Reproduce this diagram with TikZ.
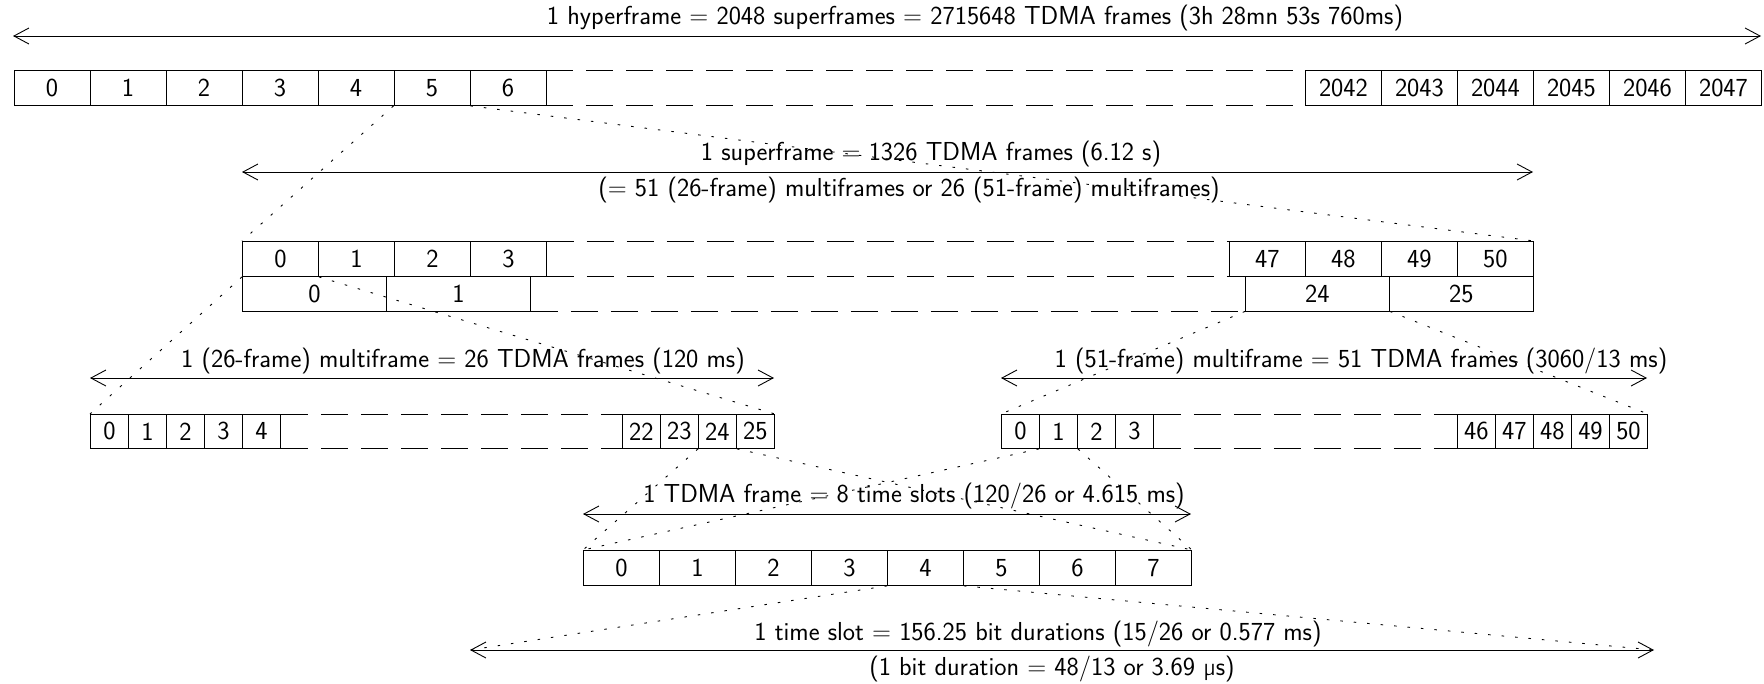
\documentclass[tikz,border=0pt]{standalone}
\usetikzlibrary{arrows.meta}
\begin{document}
\begin{tikzpicture}[x=1pt,y=-1pt,
  every node/.style={font=\fontsize{26}{30}\selectfont\sffamily},
  cell/.style={draw,line width=0.9pt,anchor=north west,inner sep=0pt,minimum height=35pt,minimum width=#1},
  cell/.default=76pt,
  lbl/.style={inner sep=0pt,anchor=center},
  dim/.style={line width=0.9pt,{Straight Barb[length=15pt,width=16pt]}-{Straight Barb[length=15pt,width=16pt]}},
  gap/.style={line width=0.9pt,dash pattern=on 27pt off 13pt},
  zoomline/.style={line width=0.9pt,dash pattern=on 2.5pt off 11pt}]
\useasboundingbox (0,0) rectangle (1764,683);

% ---------- hyperframe ----------
\node[lbl] (t1) at (975,18) {1 hyperframe = 2048 superframes = 2715648 TDMA frames (3h 28mn 53s 760ms)};
\coordinate (a1l) at (13,36); \coordinate (a1r) at (1761,36);
\draw[dim] (a1l) -- (a1r);
\foreach \i in {0,...,6} \node[cell] (h\i) at (13.5+76*\i,70) {\i};
\foreach \n [count=\k from 0] in {2042,2043,2044,2045,2046,2047}
  \node[cell] (h\n) at (1305+76*\k,70) {\n};
\draw[gap] (h6.north east) -- (h2042.north west);
\draw[gap] (h6.south east) -- (h2042.south west);

% ---------- superframe ----------
\node[lbl] (t2a) at (931,154) {1 superframe = 1326 TDMA frames (6.12 s)};
\node[lbl] (t2b) at (909,190) {(= 51 (26-frame) multiframes or 26 (51-frame) multiframes)};
\coordinate (a2l) at (242,172); \coordinate (a2r) at (1533,172);
\draw[dim] (a2l) -- (a2r);
\foreach \i in {0,...,3} \node[cell] (sA\i) at (242+76*\i,241) {\i};
\foreach \n [count=\k from 0] in {47,48,49,50} \node[cell] (sA\n) at (1229+76*\k,241) {\n};
\draw[gap] (sA3.north east) -- (sA47.north west);
\draw[gap] (sA3.south east) -- (sA47.south west);
\foreach \i in {0,1} \node[cell=144pt,minimum height=34.5pt] (sB\i) at (242+144*\i,276) {\i};
\foreach \n [count=\k from 0] in {24,25} \node[cell=144pt,minimum height=34.5pt] (sB\n) at (1245+144*\k,276) {\n};
\draw[gap] (sB1.south east) -- (sB24.south west);

% ---------- 26-frame multiframe ----------
\node[lbl] (t3l) at (463,361) {1 (26-frame) multiframe = 26 TDMA frames (120 ms)};
\coordinate (a3ll) at (90,378); \coordinate (a3lr) at (774,378);
\draw[dim] (a3ll) -- (a3lr);
\foreach \i in {0,...,4} \node[cell=38pt,minimum height=34pt] (mA\i) at (90+38*\i,414) {\i};
\foreach \n [count=\k from 0] in {22,23,24,25} \node[cell=38pt,minimum height=34pt] (mA\n) at (622+38*\k,414) {\n};
\draw[gap] (mA4.north east) -- (mA22.north west);
\draw[gap] (mA4.south east) -- (mA22.south west);

% ---------- 51-frame multiframe ----------
\node[lbl] (t3r) at (1361,361) {1 (51-frame) multiframe = 51 TDMA frames (3060/13 ms)};
\coordinate (a3rl) at (1001,378); \coordinate (a3rr) at (1647,378);
\draw[dim] (a3rl) -- (a3rr);
\foreach \i in {0,...,3} \node[cell=38pt,minimum height=34pt] (mB\i) at (1001+38*\i,414) {\i};
\foreach \n [count=\k from 0] in {46,47,48,49,50} \node[cell=38pt,minimum height=34pt] (mB\n) at (1457+38*\k,414) {\n};
\draw[gap] (mB3.north east) -- (mB46.north west);
\draw[gap] (mB3.south east) -- (mB46.south west);

% ---------- TDMA frame ----------
\node[lbl] (t4) at (914,496) {1 TDMA frame = 8 time slots (120/26 or 4.615 ms)};
\coordinate (a4l) at (583,514); \coordinate (a4r) at (1191,514);
\draw[dim] (a4l) -- (a4r);
\foreach \i in {0,...,7} \node[cell] (f\i) at (583+76*\i,550) {\i};

% ---------- time slot ----------
\node[lbl] (t5a) at (1038,634) {1 time slot = 156.25 bit durations (15/26 or 0.577 ms)};
\node[lbl] (t5b) at (1052,669) {(1 bit duration = 48/13 or 3.69 µs)};
\coordinate (a5l) at (470,650); \coordinate (a5r) at (1654,650);
\draw[dim] (a5l) -- (a5r);

% ---------- zoom lines ----------
\draw[zoomline] (h5.south west) -- (sA0.north west);
\draw[zoomline] (h5.south east) -- (sA50.north east);
\draw[zoomline] (sA0.south west) -- (mA0.north west);
\draw[zoomline] (sA0.south east) -- (mA25.north east);
\draw[zoomline] (sB24.south west) -- (mB0.north west);
\draw[zoomline] (sB24.south east) -- (mB50.north east);
\draw[zoomline] (mA24.south west) -- (f0.north west);
\draw[zoomline] (mA24.south east) -- (f7.north east);
\draw[zoomline] (mB1.south west) -- (f0.north west);
\draw[zoomline] (mB1.south east) -- (f7.north east);
\draw[zoomline] (f4.south west) -- (a5l);
\draw[zoomline] (f4.south east) -- (a5r);
\end{tikzpicture}
\end{document}
